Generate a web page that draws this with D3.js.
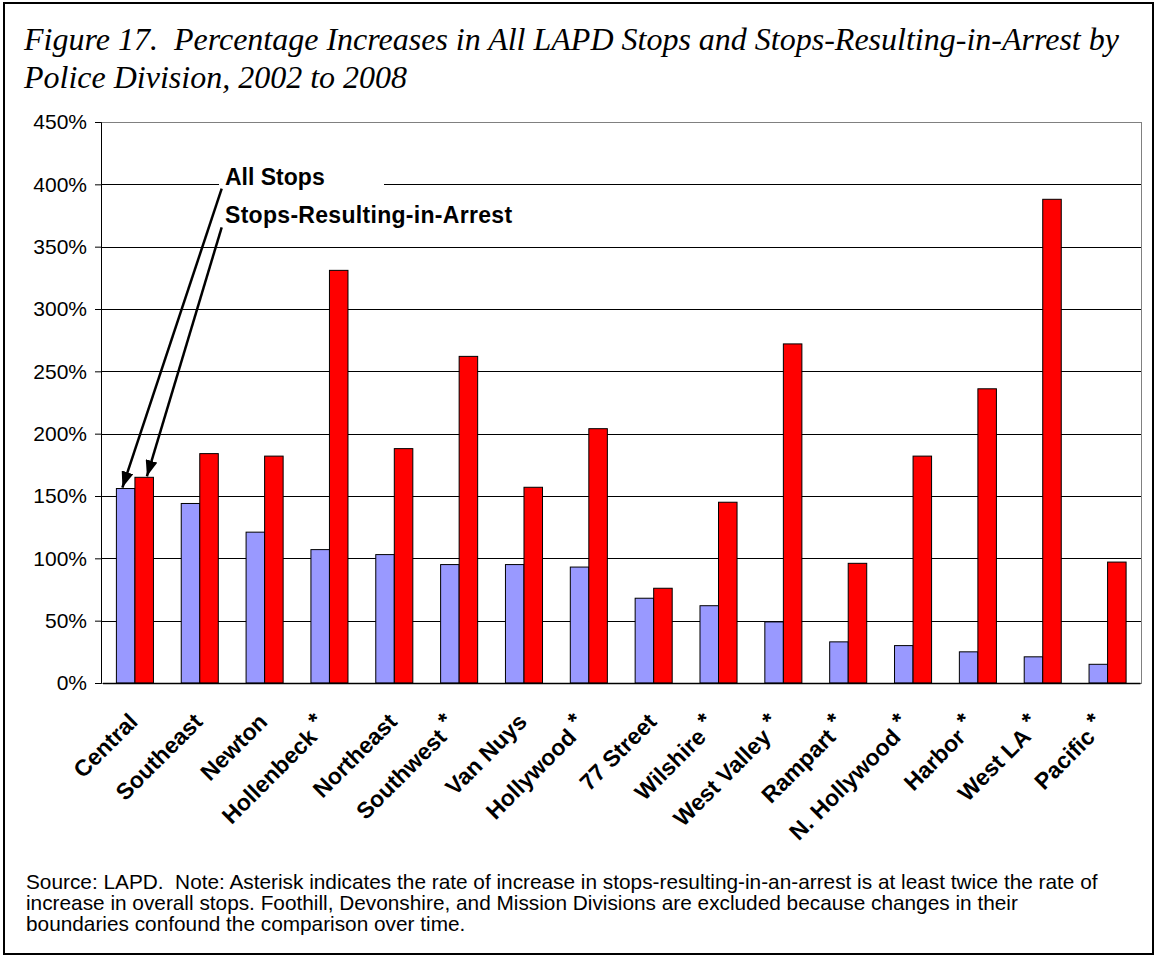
<!DOCTYPE html>
<html><head><meta charset="utf-8">
<script src="https://cdn.jsdelivr.net/npm/d3@7"></script>
<style>body{margin:0;background:#fff} text{white-space:pre}</style>
</head><body>
<svg id="c" width="1159" height="957"></svg>
<script>
const categories = ["Central","Southeast","Newton","Hollenbeck *","Northeast","Southwest *","Van Nuys","Hollywood *","77 Street","Wilshire *","West Valley *","Rampart *","N. Hollywood *","Harbor *","West LA *","Pacific *"];
const allStops = [156,144,121,107,103,95,95,93,68,62,49,33,30,25,21,15];
const arrestStops = [165,184,182,331,188,262,157,204,76,145,272,96,182,236,388,97];
const seriesNames = ["All Stops","Stops-Resulting-in-Arrest"];
const yTicks = [0,50,100,150,200,250,300,350,400,450];
const titleLines = ["Figure 17.  Percentage Increases in All LAPD Stops and Stops-Resulting-in-Arrest by","Police Division, 2002 to 2008"];
const sourceLines = ["Source: LAPD.  Note: Asterisk indicates the rate of increase in stops-resulting-in-an-arrest is at least twice the rate of","increase in overall stops. Foothill, Devonshire, and Mission Divisions are excluded because changes in their","boundaries confound the comparison over time."];

const svg = d3.select("#c");
const colors = ["#9999FF","#FF0000"];
const plot = {l:101, r:1141, t:122, b:683};
const sans = "Arial,'Liberation Sans',sans-serif";

svg.append("rect").attr("x",4).attr("y",3).attr("width",1149).attr("height",951)
  .attr("fill","#fff").attr("stroke","#000").attr("stroke-width",2);

const tt = svg.append("g").attr("font-family","'Liberation Serif','Times New Roman',serif")
  .attr("font-style","italic").attr("font-size",32);
tt.selectAll("text").data(titleLines).join("text")
  .attr("x",24).attr("y",(d,i)=>50+i*38).text(d=>d);

const y = d3.scaleLinear().domain([0,450]).range([plot.b, plot.t]);
const x0 = d3.scaleBand().domain(categories).range([102.5,1140]).padding(0);
const x1 = d3.scaleBand().domain(seriesNames).range([0,x0.bandwidth()]).paddingOuter(0.75);

// plot border
svg.append("rect").attr("x",plot.l).attr("y",plot.t+0.5).attr("width",plot.r-plot.l).attr("height",plot.b-plot.t)
  .attr("fill","none").attr("stroke","#808080").attr("stroke-width",1).attr("shape-rendering","crispEdges");
// gridlines
svg.append("g").selectAll("line").data(yTicks.filter(v=>v>0 && v<450)).join("line")
  .attr("x1",plot.l).attr("x2",plot.r).attr("y1",d=>Math.round(y(d))+0.5).attr("y2",d=>Math.round(y(d))+0.5)
  .attr("stroke","#000").attr("stroke-width",1);

// annotation text box (hides gridline)
svg.append("rect").attr("x",219).attr("y",170).attr("width",165).attr("height",26).attr("fill","#fff");

// bars
const rows = categories.map((c,i)=>({cat:c, vals:[allStops[i], arrestStops[i]]}));
const g = svg.append("g");
g.selectAll("g").data(rows).join("g").attr("transform",d=>`translate(${x0(d.cat)},0)`)
  .selectAll("rect").data(d=>d.vals.map((v,j)=>({s:seriesNames[j], v, j}))).join("rect")
  .attr("x",d=>x1(d.s)).attr("width",x1.bandwidth())
  .attr("y",d=>y(d.v)).attr("height",d=>y(0)-y(d.v))
  .attr("fill",d=>colors[d.j]).attr("stroke","#000").attr("stroke-width",1);

// y axis
const ya = svg.append("g").attr("transform",`translate(${plot.l},0)`)
  .call(d3.axisLeft(y).tickValues(yTicks).tickFormat(d=>d+"%").tickSize(6).tickPadding(8));
ya.select(".domain").attr("stroke","#000");
ya.selectAll("text").attr("font-family",sans).attr("font-size",21).attr("fill","#000");

// x axis
const xa = svg.append("g").attr("transform",`translate(0,${plot.b})`)
  .call(d3.axisBottom(x0).tickSize(0));
xa.select(".domain").attr("stroke","#000").attr("stroke-width",1.5);
xa.selectAll("text").attr("font-family",sans).attr("font-size",23)
  .attr("font-weight","bold").attr("fill","#000").attr("text-anchor","end")
  .attr("x",0).attr("y",0).attr("dy","0.75em").attr("transform","translate(-8,28) rotate(-45)")
  .each(function(d){
    if (d.endsWith(" *")) {
      const t = d3.select(this).text(d.slice(0,-2));
      t.append("tspan").attr("dy","-0.32em").text(" *");
      t.append("tspan").attr("dy","0.32em").text(" ");
    }
  });

// annotations
const defs = svg.append("defs");
defs.append("marker").attr("id","ah").attr("markerUnits","userSpaceOnUse")
  .attr("markerWidth",16).attr("markerHeight",12).attr("refX",16).attr("refY",6).attr("orient","auto")
  .append("path").attr("d","M0,0 L16,6 L0,12 Z").attr("fill","#000");
const c0 = x0(categories[0]);
const arrows = [
  {x1:221.7, y1:188.7, x2:c0+x1(seriesNames[0])+6, y2:y(allStops[0])-1},
  {x1:221.7, y1:227.3, x2:c0+x1(seriesNames[1])+12, y2:y(arrestStops[0])-1}
];
svg.append("g").selectAll("line").data(arrows).join("line")
  .attr("x1",d=>d.x1).attr("y1",d=>d.y1).attr("x2",d=>d.x2).attr("y2",d=>d.y2)
  .attr("stroke","#000").attr("stroke-width",2.5).attr("marker-end","url(#ah)");
const at = svg.append("g").attr("font-family",sans).attr("font-weight","bold").attr("font-size",23);
at.selectAll("text").data(seriesNames).join("text").attr("x",225).attr("y",(d,i)=>185+i*38)
  .attr("letter-spacing",(d,i)=>i?0.3:0).text(d=>d);

// source
const st = svg.append("g").attr("font-family",sans).attr("font-size",20.8);
st.selectAll("text").data(sourceLines).join("text").attr("x",26).attr("y",(d,i)=>889+i*21).text(d=>d);
</script>
</body></html>
